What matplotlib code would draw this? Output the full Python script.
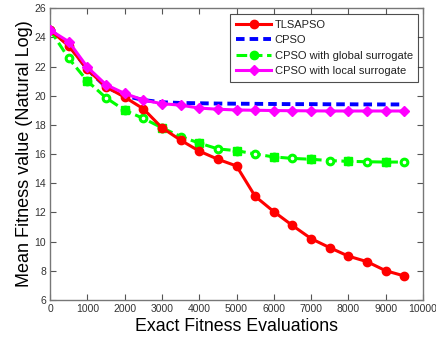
import matplotlib
matplotlib.use("Agg")
import matplotlib.pyplot as plt
import numpy as np

plt.rcParams['font.family'] = ['Liberation Sans', 'DejaVu Sans']

evals = [0, 500, 1000, 1500, 2000, 2500, 3000, 3500, 4000, 4500,
         5000, 5500, 6000, 6500, 7000, 7500, 8000, 8500, 9000, 9500]

tlsapso = [24.5, 23.4, 21.8, 20.6, 19.9, 19.1, 17.8, 16.95, 16.2, 15.64,
           15.18, 13.1, 12.05, 11.1, 10.2, 9.58, 9.0, 8.62, 8.0, 7.64]
cpso = [24.5, 23.5, 21.8, 20.6, 20.0, 19.7, 19.55, 19.5, 19.48, 19.46,
        19.45, 19.44, 19.43, 19.42, 19.42, 19.41, 19.41, 19.4, 19.4, 19.4]
cpso_global = [24.5, 22.55, 21.0, 19.85, 19.0, 18.44, 17.8, 17.2, 16.75, 16.35,
               16.23, 16.0, 15.8, 15.7, 15.64, 15.55, 15.5, 15.47, 15.45, 15.45]
cpso_local = [24.5, 23.7, 21.95, 20.75, 20.15, 19.7, 19.45, 19.35, 19.15, 19.07,
              19.02, 19.0, 18.98, 18.97, 18.96, 18.95, 18.95, 18.95, 18.95, 18.95]

series_names = ["TLSAPSO", "CPSO", "CPSO with global surrogate",
                "CPSO with local surrogate"]

fig = plt.figure(figsize=(4.36, 3.40), dpi=100)
ax = fig.add_axes([0.115, 0.118, 0.855, 0.858])

lw = 2.2
ax.plot(evals, tlsapso, color='#ff0000', lw=lw, marker='o', ms=6,
        label=series_names[0], zorder=3)
ax.plot(evals, cpso, color='#0000ff', lw=lw + 0.6, ls=(0, (2.2, 1.3)),
        label=series_names[1], zorder=2)
ax.plot(evals, cpso_global, color='#00ff00', lw=lw, ls=(0, (3.5, 1.5)),
        marker='o', ms=6, label=series_names[2], zorder=2)
# square markers on alternate points of the global-surrogate curve
ax.plot(evals[2::2], cpso_global[2::2], ls='none', marker='s', ms=6,
        color='#00ff00', zorder=2)
# small open centres on the other points
ax.plot(evals[1::2], cpso_global[1::2], ls='none', marker='o', ms=1.6,
        color='white', zorder=2.5)
ax.plot(evals, cpso_local, color='#ff00ff', lw=lw, marker='D', ms=5,
        label=series_names[3], zorder=4)

ax.set_xlim(0, 10000)
ax.set_ylim(6, 26)
ax.set_xticks(np.arange(0, 10001, 1000))
ax.set_yticks(np.arange(6, 27, 2))

ax.tick_params(direction='in', top=True, right=True, length=4, width=0.8,
               labelsize=7.5, colors='#555555', labelcolor='#333333', pad=3)
for sp in ax.spines.values():
    sp.set_color('#777777')
    sp.set_linewidth(1.0)

ax.set_xlabel("Exact Fitness Evaluations", fontsize=12.8, labelpad=3)
ax.set_ylabel("Mean Fitness value (Natural Log)", fontsize=13, labelpad=1)

leg = ax.legend(loc='upper right', bbox_to_anchor=(0.988, 0.98),
                fontsize=8, frameon=True, fancybox=False,
                handlelength=3.2, handletextpad=0.3, borderpad=0.5,
                labelspacing=0.5, borderaxespad=0)
leg.get_frame().set_edgecolor('#222222')
leg.get_frame().set_linewidth(0.8)
for t in leg.get_texts():
    t.set_color('#222222')

fig.savefig("out.png", dpi=100)
